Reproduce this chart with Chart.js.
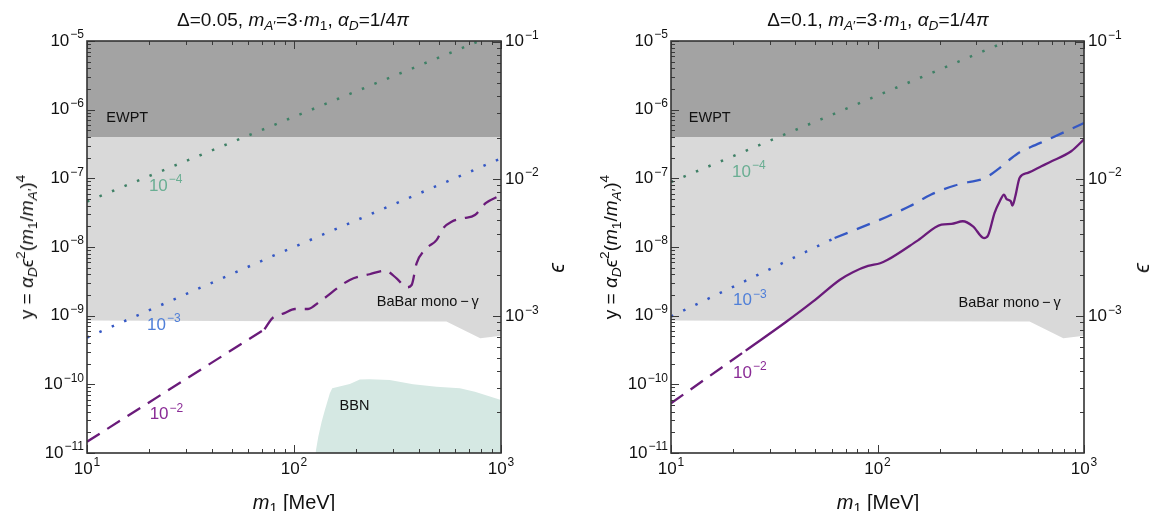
<!DOCTYPE html>
<html>
<head>
<meta charset="utf-8">
<script src="https://cdn.jsdelivr.net/npm/chart.js@4.4.1/dist/chart.umd.min.js"></script>
<style>
  body { margin: 0; width: 1151px; height: 511px; background: #fff; position: relative; overflow: hidden;
         font-family: "Liberation Sans", Arial, sans-serif; color: #111; }
  .panel { position: absolute; top: 0; height: 511px; }
  .txt { position: absolute; white-space: nowrap; line-height: 20px; }
  .title { top: 10px; font-size: 19px; transform: translateX(-50%); }
  .xlab { top: 492px; font-size: 20px; transform: translateX(-50%); }
  .ylab { font-size: 19px; transform: translate(-50%, -50%) rotate(-90deg); }
  .eps { font-size: 22px; }
  sub { font-size: 72%; vertical-align: -0.3em; line-height: 0; }
  sup { font-size: 72%; vertical-align: 0.55em; line-height: 0; }
</style>
</head>
<body>
<div class="panel" style="left:0;width:576px"><canvas id="left" width="576" height="511"></canvas></div>
<div class="panel" style="left:576px;width:575px"><canvas id="right" width="575" height="511"></canvas></div>

<div class="txt title" style="left:293px">Δ=0.05, <i>m</i><sub><i>A</i>′</sub>=3·<i>m</i><sub>1</sub>, <i>α</i><sub><i>D</i></sub>=1/4<i>π</i></div>
<div class="txt title" style="left:878px">Δ=0.1, <i>m</i><sub><i>A</i>′</sub>=3·<i>m</i><sub>1</sub>, <i>α</i><sub><i>D</i></sub>=1/4<i>π</i></div>
<div class="txt xlab" style="left:294px"><i>m</i><sub>1</sub> [MeV]</div>
<div class="txt xlab" style="left:878px"><i>m</i><sub>1</sub> [MeV]</div>
<div class="txt ylab" style="left:27px;top:247px">y = <i>α</i><sub><i>D</i></sub><i>ϵ</i><sup>2</sup>(<i>m</i><sub>1</sub>/<i>m</i><sub><i>A</i>′</sub>)<sup>4</sup></div>
<div class="txt ylab" style="left:611px;top:247px">y = <i>α</i><sub><i>D</i></sub><i>ϵ</i><sup>2</sup>(<i>m</i><sub>1</sub>/<i>m</i><sub><i>A</i>′</sub>)<sup>4</sup></div>
<div class="txt ylab eps" style="left:557px;top:268px"><i>ϵ</i></div>
<div class="txt ylab eps" style="left:1142px;top:268px"><i>ϵ</i></div>

<script>
// axis ranges
const X_MIN = 10, X_MAX = 1000;
const Y_MIN = 1e-11, Y_MAX = 1e-5;
const ALPHA_D = 1 / (4 * Math.PI);
const MASS_RATIO = 1 / 3;   // m1 / mA'

// excluded regions (same in both panels)
const ewptX = [10, 1000];
const ewptY = [4e-7, 4e-7];
const babarX = [10, 100, 545, 794, 1000];
const babarY = [8.5e-10, 8.3e-10, 8.2e-10, 4.7e-10, 5.1e-10];
const bbnX = [127, 131, 136, 141, 149, 153, 186, 208, 232, 290, 376, 488, 633, 748, 1000];
const bbnY = [1e-11, 1.73e-11, 2.86e-11, 4.23e-11, 7.41e-11, 8.76e-11, 1.01e-10, 1.18e-10,
              1.19e-10, 1.16e-10, 1.0e-10, 9.25e-11, 8.76e-11, 7.82e-11, 5.9e-11];

// left panel, Delta = 0.05
const greenAX = [10, 785];
const greenAY = [4.6e-8, 1e-5];
const blueAX = [10, 79, 545, 1000];
const blueAY = [4.8e-10, 7.4e-9, 8.9e-8, 1.95e-7];
const purpleALowX = [10, 72];
const purpleALowY = [1.46e-11, 6.34e-10];
const purpleAX = [72, 78.5, 90, 101, 117, 133, 186, 232, 275, 313, 350, 370, 391,
                  437, 488, 525, 577, 657, 748, 843, 1000];
const purpleAY = [6.34e-10, 9.16e-10, 1.09e-9, 1.25e-9, 1.25e-9, 1.6e-9, 3.31e-9,
                  4.01e-9, 4.52e-9, 3.5e-9, 2.59e-9, 2.8e-9, 5.79e-9, 9.57e-9, 1.26e-8,
                  1.87e-8, 2.34e-8, 2.62e-8, 2.92e-8, 4.34e-8, 5.71e-8];

// right panel, Delta = 0.1
const greenBX = [10, 427];
const greenBY = [8.8e-8, 1e-5];
const blueBDotX = [10, 62];
const blueBDotY = [9.7e-10, 1.35e-8];
const blueBDashX = [62, 110.5, 143, 182, 237, 274, 318, 343, 391, 437, 488, 556, 682, 1000];
const blueBDashY = [1.35e-8, 2.74e-8, 3.92e-8, 5.81e-8, 7.86e-8, 8.77e-8, 9.6e-8, 1.07e-7,
                    1.42e-7, 1.88e-7, 2.4e-7, 2.88e-7, 3.77e-7, 6.4e-7];
const purpleBDashX = [10, 23];
const purpleBDashY = [5.3e-11, 3.1e-10];
const purpleBSolidX = [23, 36.3, 48.8, 65.8, 76, 90, 103, 112, 157, 204, 228, 259, 290, 328,
                       343, 369, 391, 410, 421, 442, 450, 465, 488, 535, 622, 682, 867, 1000];
const purpleBSolidY = [3.1e-10, 8.22e-10, 1.61e-9, 3.34e-9, 4.3e-9, 5.3e-9, 5.8e-9, 6.5e-9,
                       1.25e-8, 2.12e-8, 2.17e-8, 2.37e-8, 2.0e-8, 1.35e-8, 1.47e-8, 3.14e-8,
                       4.63e-8, 5.81e-8, 5.02e-8, 4.63e-8, 4.01e-8, 5.48e-8, 1.02e-7, 1.2e-7,
                       1.5e-7, 1.72e-7, 2.48e-7, 3.7e-7];

// tick labels
const xTickExp = ['1', '2', '3'];
const yTickExp = ['\u221211', '\u221210', '\u22129', '\u22128', '\u22127', '\u22126', '\u22125'];
const epsTickExp = ['\u22123', '\u22122', '\u22121'];

// text inside the plots (data coordinates)
const labelsA = [
  { text: 'EWPT', x: 12.4, y: 7.6e-7, align: 'left' },
  { text: 'BaBar mono\u2009\u2212\u2009\u03b3', x: 251, y: 1.56e-9, align: 'left' },
  { text: 'BBN', x: 166, y: 4.9e-11, align: 'left' },
  { exp: '\u22124', x: 24.0, y: 7.7e-8, color: '#6aae93' },
  { exp: '\u22123', x: 23.5, y: 7.3e-10, color: '#4f7fd8' },
  { exp: '\u22122', x: 24.2, y: 3.6e-11, color: '#8a2b96' }
];
const labelsB = [
  { text: 'EWPT', x: 12.2, y: 7.6e-7, align: 'left' },
  { text: 'BaBar mono\u2009\u2212\u2009\u03b3', x: 247, y: 1.53e-9, align: 'left' },
  { exp: '\u22124', x: 23.8, y: 1.24e-7, color: '#6aae93' },
  { exp: '\u22123', x: 24.1, y: 1.66e-9, color: '#4f7fd8' },
  { exp: '\u22122', x: 24.1, y: 1.46e-10, color: '#8a2b96' }
];

const GREEN = '#3f8066', BLUE = '#3558c4', PURPLE = '#6a1b7a';
const DARK = '#a3a3a3', LIGHT = '#d9d9d9', BBN = '#d5e8e3';
const DOT = [2.5, 11], DASH = [15, 9];
const FONT = '"Liberation Sans", Arial, sans-serif';

function epsOf(y) {
  return Math.sqrt(y / (ALPHA_D * Math.pow(MASS_RATIO, 4)));
}

function series(xs, ys) {
  return xs.map((x, i) => ({ x: x, y: ys[i] }));
}

function drawPow(ctx, exp, x, y, align, color) {
  ctx.font = '17px ' + FONT;
  const wb = ctx.measureText('10').width;
  ctx.font = '12px ' + FONT;
  const we = ctx.measureText(exp).width;
  const w = wb + 1 + we;
  const sx = align === 'right' ? x - w : align === 'center' ? x - w / 2 : x;
  ctx.fillStyle = color;
  ctx.textAlign = 'left';
  ctx.textBaseline = 'middle';
  ctx.font = '17px ' + FONT;
  ctx.fillText('10', sx, y);
  ctx.font = '12px ' + FONT;
  ctx.fillText(exp, sx + wb + 1, y - 6);
}

function logTicks(min, max) {
  const out = [];
  for (let d = Math.floor(Math.log10(min)); d <= Math.ceil(Math.log10(max)); d++) {
    for (let m = 1; m <= 9; m++) {
      const v = m * Math.pow(10, d);
      if (v >= min * 0.999 && v <= max * 1.001) out.push({ v: v, major: m === 1 });
    }
  }
  return out;
}

function decor(labels) {
  return {
    id: 'decor',
    afterDatasetsDraw(chart) {
      const ctx = chart.ctx, a = chart.chartArea;
      const sx = chart.scales.x, sy = chart.scales.y, se = chart.scales.eps;
      ctx.save();

      // labels inside the plot
      labels.forEach(l => {
        const px = sx.getPixelForValue(l.x), py = sy.getPixelForValue(l.y);
        if (l.exp) {
          drawPow(ctx, l.exp, px, py, 'center', l.color);
        } else {
          ctx.font = '14.5px ' + FONT;
          ctx.fillStyle = '#111';
          ctx.textAlign = l.align;
          ctx.textBaseline = 'middle';
          ctx.fillText(l.text, px, py);
        }
      });

      // inward ticks
      ctx.strokeStyle = '#3a3a3a';
      ctx.lineWidth = 1;
      ctx.beginPath();
      logTicks(X_MIN, X_MAX).forEach(t => {
        const px = Math.round(sx.getPixelForValue(t.v)) + 0.5, len = t.major ? 8 : 4;
        ctx.moveTo(px, a.bottom); ctx.lineTo(px, a.bottom - len);
        ctx.moveTo(px, a.top); ctx.lineTo(px, a.top + len);
      });
      logTicks(Y_MIN, Y_MAX).forEach(t => {
        const py = Math.round(sy.getPixelForValue(t.v)) + 0.5, len = t.major ? 8 : 4;
        ctx.moveTo(a.left, py); ctx.lineTo(a.left + len, py);
      });
      logTicks(se.min, se.max).forEach(t => {
        const py = Math.round(se.getPixelForValue(t.v)) + 0.5, len = t.major ? 8 : 4;
        ctx.moveTo(a.right, py); ctx.lineTo(a.right - len, py);
      });
      ctx.stroke();

      // frame
      ctx.lineWidth = 1.6;
      ctx.strokeStyle = '#333';
      ctx.strokeRect(a.left, a.top, a.right - a.left, a.bottom - a.top);

      // tick labels
      xTickExp.forEach((e, i) => {
        drawPow(ctx, e, sx.getPixelForValue(Math.pow(10, i + 1)), a.bottom + 16, 'center', '#111');
      });
      yTickExp.forEach((e, i) => {
        drawPow(ctx, e, a.left - 3, sy.getPixelForValue(Math.pow(10, i - 11)), 'right', '#111');
      });
      epsTickExp.forEach((e, i) => {
        drawPow(ctx, e, a.right + 4, se.getPixelForValue(Math.pow(10, i - 3)), 'left', '#111');
      });
      ctx.restore();
    }
  };
}

function lineSet(xs, ys, color, dash, order, smooth) {
  return {
    data: series(xs, ys), borderColor: color, borderWidth: dash === DOT ? 2.5 : 2.3,
    borderDash: dash || [], borderCapStyle: 'butt', fill: false, order: order,
    cubicInterpolationMode: smooth ? 'monotone' : 'default', tension: 0, clip: 0
  };
}

function regionSets(withBBN) {
  const sets = [
    { data: series(babarX, babarY), fill: 'end', backgroundColor: LIGHT, borderWidth: 0, order: 12, clip: 0 },
    { data: series(ewptX, ewptY), fill: 'end', backgroundColor: DARK, borderWidth: 0, order: 11, clip: 0 }
  ];
  if (withBBN) {
    sets.push({ data: series(bbnX, bbnY), fill: 'start', backgroundColor: BBN, borderWidth: 0, order: 10, clip: 0 });
  }
  return sets;
}

function makePanel(id, padLeft, padRight, datasets, labels) {
  return new Chart(document.getElementById(id), {
    type: 'line',
    data: { datasets: datasets },
    options: {
      responsive: false,
      animation: false,
      events: [],
      layout: { padding: { left: padLeft, right: padRight, top: 41, bottom: 58 } },
      elements: { point: { radius: 0 } },
      plugins: { legend: { display: false }, tooltip: { enabled: false }, title: { display: false } },
      scales: {
        x: { type: 'logarithmic', min: X_MIN, max: X_MAX, display: false },
        y: { type: 'logarithmic', min: Y_MIN, max: Y_MAX, display: false },
        eps: { type: 'logarithmic', position: 'right', min: epsOf(Y_MIN), max: epsOf(Y_MAX), display: false }
      }
    },
    plugins: [decor(labels)]
  });
}

makePanel('left', 87, 75, [
  lineSet(purpleALowX, purpleALowY, PURPLE, DASH, 0, false),
  lineSet(purpleAX, purpleAY, PURPLE, DASH, 0, true),
  lineSet(blueAX, blueAY, BLUE, DOT, 1, false),
  lineSet(greenAX, greenAY, GREEN, DOT, 2, false)
].concat(regionSets(true)), labelsA);

makePanel('right', 95, 67, [
  lineSet(purpleBSolidX, purpleBSolidY, PURPLE, null, 0, true),
  lineSet(purpleBDashX, purpleBDashY, PURPLE, DASH, 0, false),
  lineSet(blueBDashX, blueBDashY, BLUE, [14, 10], 1, true),
  lineSet(blueBDotX, blueBDotY, BLUE, DOT, 1, false),
  lineSet(greenBX, greenBY, GREEN, DOT, 2, false)
].concat(regionSets(false)), labelsB);
</script>
</body>
</html>
